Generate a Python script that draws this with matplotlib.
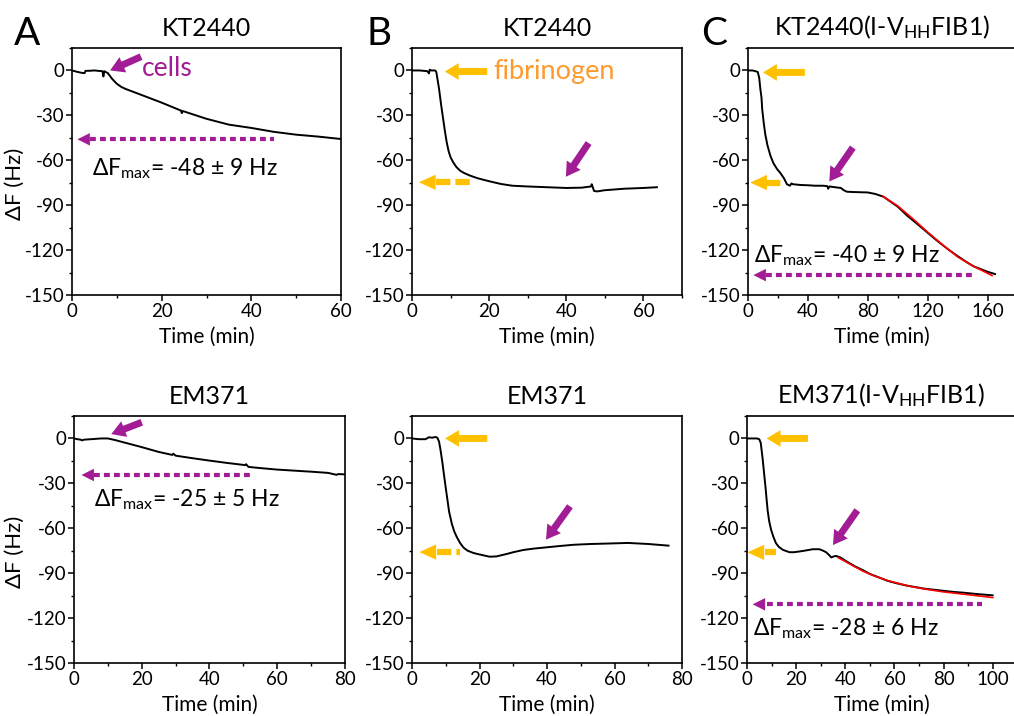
import matplotlib.pyplot as plt
from matplotlib.ticker import MultipleLocator

plt.rcParams['font.family'] = ['Lato', 'DejaVu Sans']
plt.rcParams['mathtext.fontset'] = 'custom'
plt.rcParams['mathtext.rm'] = 'Lato'
plt.rcParams['mathtext.default'] = 'regular'
plt.rcParams['mathtext.fallback'] = 'stixsans'
plt.rcParams['axes.unicode_minus'] = False

MAGENTA = '#A11C95'
ORANGE = '#FFC000'
TEXT_ORANGE = '#FF9A2E'

# A, top: KT2440 + cells
t_a1 = [0, 1, 2, 2.8, 3, 4, 5, 6, 6.8, 7, 7.2, 8, 9, 10, 11, 12, 15, 20, 24.3,
        24.5, 24.7, 30, 35, 40, 45, 50, 55, 60]
df_a1 = [0, -0.8, -1.5, -1.8, -0.3, -0.2, 0, -0.3, -0.5, -4, -0.5, -1.8, -5.8,
         -8.9, -11, -12.4, -15.8, -21.5, -26.8, -28.5, -27.1, -32.3, -36.2,
         -38.4, -41, -42.9, -44.2, -45.8]

# B, top: KT2440 on fibrinogen
t_b1 = [0, 2, 4, 4.4, 4.6, 5, 6, 6.3, 7, 7.5, 8, 8.5, 9, 9.5, 10, 10.6, 11.5,
        12.5, 13.5, 15, 17, 20, 23, 26, 30, 35, 40, 44, 46.4, 46.6, 47.2, 48,
        50, 55, 60, 63.5]
df_b1 = [0, 0, -0.5, -2, 0.5, 0, 0, -1, -12, -22, -31, -40, -48, -54, -58, -61,
         -64.5, -67, -68.5, -70.2, -72, -74, -75.8, -77, -77.5, -78, -78.5,
         -78.3, -77.5, -76, -80.5, -80.8, -80, -79, -78.5, -78]

# C, top: KT2440(I-VHHFIB1) on fibrinogen
t_c1 = [0, 3, 5, 6.5, 7.5, 8.2, 9, 9.5, 10.5, 11.6, 13, 15, 17, 19.5, 21.6, 24,
        26, 28, 29, 30, 35, 40, 45, 50, 53, 53.5, 54.5, 58, 62, 64, 66, 70, 80,
        85, 90.6, 95, 100, 106, 113, 119.5, 126, 133, 140, 146, 151, 155, 160,
        165]
df_c1 = [0, 0, -0.5, -1, -5, -12, -18, -26, -35, -43, -50, -57, -62, -66,
         -68.5, -72, -76, -77, -75.5, -76, -76.5, -76.7, -77, -77, -77.3, -79,
         -77.5, -78, -78.5, -80, -81, -81.2, -81.5, -82.5, -84.4, -87.5, -91,
         -96.7, -102.5, -108, -113.5, -119, -124, -128, -131, -132.5, -134.5,
         -136]
t_c1_fit = [90, 100, 110, 120, 130, 140, 150, 163]
df_c1_fit = [-84, -90.5, -99, -108, -116.5, -124.5, -130.5, -137]

# A, bottom: EM371 + cells
t_a2 = [0, 1, 2, 2.3, 3, 5, 8, 10, 12, 15, 20, 25, 29, 29.3, 30, 35, 40, 45,
        50.5, 50.8, 51.5, 55, 60, 65, 70, 75, 77.5, 78, 80]
df_a2 = [0, -0.5, -0.8, -1.3, -0.8, -0.5, 0, 0, -1, -2.8, -5.8, -9, -11, -10.2,
         -11.5, -13.2, -14.8, -16.3, -17.8, -17.2, -19, -19.8, -20.8, -21.5,
         -22.2, -23, -24.3, -23.8, -24]

# B, bottom: EM371 on fibrinogen
t_b2 = [0, 2, 4, 5, 6, 7, 7.5, 8, 8.4, 9, 9.4, 10, 10.5, 11, 11.8, 12.5, 13.3,
        14.3, 15.3, 16.5, 18.2, 20, 23, 25, 28, 30, 33, 36, 40, 44, 48, 53, 58,
        64, 70, 76]
df_b2 = [0, -0.5, -0.5, 0.8, 0.5, 1, 0.5, -2, -7, -16, -23, -33, -41, -49, -57,
         -62, -66, -70, -73, -75, -76.5, -77.5, -79, -78.8, -77.2, -76, -74.5,
         -73.6, -72.7, -71.8, -71, -70.5, -70.2, -69.8, -70.5, -71.6]

# C, bottom: EM371(I-VHHFIB1) on fibrinogen
t_c2 = [0, 2, 4, 5, 5.6, 6.4, 7, 7.5, 8, 8.4, 9, 9.8, 10.8, 11.8, 13, 14.6,
        17.3, 19, 21.4, 24, 26.8, 29.5, 31, 32.2, 33.5, 34.3, 35.3, 36.3, 38,
        40.4, 44, 47.2, 50, 54, 57, 60.8, 65, 67.6, 72, 78.5, 84, 88, 94, 100]
df_c2 = [0, 0, 0, -0.5, -3, -14, -24, -32, -41, -48, -55, -61, -66, -70, -72.5,
         -74.4, -76, -76, -75.5, -74.8, -74, -74, -75, -76, -78, -79.5, -78.8,
         -78.5, -79.5, -82, -85.5, -88, -90.5, -93, -95, -96.7, -98.3, -99,
         -100.3, -101.5, -102.5, -103, -104, -104.8]
t_c2_fit = [37, 42, 47, 52, 57, 62, 67, 72, 80, 88, 95, 100]
df_c2_fit = [-79.5, -84, -88.5, -92, -94.8, -97, -99, -100.5, -102.5, -104,
             -105.3, -106.3]


def px_axes(left, right, top, bottom):
    return fig.add_axes([left / 1014, 1 - bottom / 716,
                         (right - left) / 1014, (bottom - top) / 716])


def setup(ax, xmax, xstep, title, ylabel=False, open_right=False):
    ax.set_xlim(0, xmax)
    ax.set_ylim(-150, 15)
    ax.xaxis.set_major_locator(MultipleLocator(xstep))
    ax.xaxis.set_minor_locator(MultipleLocator(xstep / 2))
    ax.yaxis.set_major_locator(MultipleLocator(30))
    ax.yaxis.set_minor_locator(MultipleLocator(15))
    ax.tick_params(which='major', direction='out', length=4, width=1.1,
                   labelsize=13.5, pad=1.5)
    ax.tick_params(which='minor', direction='out', length=2.5, width=1)
    for s in ax.spines.values():
        s.set_linewidth(1.2)
    if open_right:
        ax.spines['right'].set_visible(False)
    ax.set_title(title, fontsize=18, pad=9)
    ax.set_xlabel('Time (min)', fontsize=15, labelpad=5)
    if ylabel:
        ax.set_ylabel('ΔF (Hz)', fontsize=16)
        w = ax.get_position().width * 1014
        ax.yaxis.set_label_coords(-(ax.get_position().x0 * 1014 - 25) / w, 0.45)


def solid_arrow(ax, tip, tail, color):
    ax.annotate('', xy=tip, xytext=tail,
                arrowprops=dict(arrowstyle='simple,head_length=1.0,head_width=1.2,tail_width=0.5',
                                color=color, lw=0, shrinkA=0, shrinkB=0,
                                mutation_scale=10))


def dotted_arrow(ax, tip, head_end, line_end, y, color, lw, dashes, hl, hw):
    ax.plot([head_end, line_end], [y, y], color=color, lw=lw, dashes=dashes,
            dash_capstyle='butt', solid_capstyle='butt')
    ax.annotate('', xy=(tip, y), xytext=(head_end + 0.01, y),
                arrowprops=dict(arrowstyle=f'-|>,head_length={hl},head_width={hw}',
                                color=color, lw=0, shrinkA=0, shrinkB=0,
                                mutation_scale=10))


def dfmax_label(ax, x, y, value):
    ax.text(x, y, 'ΔF$_{max}$= ' + value, fontsize=16.5, va='center')


fig = plt.figure(figsize=(10.14, 7.16), dpi=100)

# ---- top row
ax = px_axes(72, 341, 48, 295)
setup(ax, 60, 20, 'KT2440', ylabel=True)
ax.plot(t_a1, df_a1, color='black', lw=1.4)
solid_arrow(ax, (8.5, 0), (15.4, 9.2), MAGENTA)
ax.text(15.6, 1.5, 'cells', color=MAGENTA, fontsize=19, va='center')
dotted_arrow(ax, 1.2, 4.0, 45, -46, MAGENTA, 3, (1.4, 1), 0.9, 0.45)
dfmax_label(ax, 4.5, -65.5, '-48 ± 9 Hz')

ax = px_axes(412, 682, 48, 295)
setup(ax, 70, 20, 'KT2440')
ax.plot(t_b1, df_b1, color='black', lw=1.4)
solid_arrow(ax, (8.5, -0.7), (19.5, -0.7), ORANGE)
ax.text(21.2, -1, 'fibrinogen', color=TEXT_ORANGE, fontsize=19.5, va='center')
dotted_arrow(ax, 1.8, 6.3, 15, -74.7, ORANGE, 4.5, (2.3, 0.8), 1.2, 0.55)
solid_arrow(ax, (39.9, -71), (45.8, -48.5), MAGENTA)

ax = px_axes(748, 1016, 48, 295)
setup(ax, 179, 40, 'KT2440(I-V$_{HH}$FIB1)', open_right=True)
ax.plot(t_c1, df_c1, color='black', lw=1.4)
ax.plot(t_c1_fit, df_c1_fit, color='red', lw=1.2)
solid_arrow(ax, (10, -1.3), (38, -1.3), ORANGE)
dotted_arrow(ax, 1.5, 12, 22, -74.9, ORANGE, 4.5, (2.3, 0.8), 1.2, 0.55)
solid_arrow(ax, (54.3, -74.2), (70, -51.5), MAGENTA)
dfmax_label(ax, 3.8, -123.5, '-40 ± 9 Hz')
dotted_arrow(ax, 3.6, 12, 152, -136.7, MAGENTA, 3, (1.4, 1), 0.9, 0.45)

# ---- bottom row
ax = px_axes(74, 345, 416, 663)
setup(ax, 80, 20, 'EM371', ylabel=True)
ax.plot(t_a2, df_a2, color='black', lw=1.4)
solid_arrow(ax, (11, 2.9), (20, 10.8), MAGENTA)
dotted_arrow(ax, 2.2, 6, 52, -24.4, MAGENTA, 3, (1.4, 1), 0.9, 0.45)
dfmax_label(ax, 5.9, -41, '-25 ± 5 Hz')

ax = px_axes(412, 682, 416, 663)
setup(ax, 80, 20, 'EM371')
ax.plot(t_b2, df_b2, color='black', lw=1.4)
solid_arrow(ax, (9.8, 0), (22.3, 0), ORANGE)
dotted_arrow(ax, 2.2, 7.3, 14.3, -75.9, ORANGE, 4.5, (2.3, 0.8), 1.2, 0.55)
solid_arrow(ax, (39.7, -67.6), (46.8, -45.3), MAGENTA)

ax = px_axes(747, 1016, 416, 663)
setup(ax, 109.5, 20, 'EM371(I-V$_{HH}$FIB1)', open_right=True)
ax.plot(t_c2, df_c2, color='black', lw=1.4)
ax.plot(t_c2_fit, df_c2_fit, color='red', lw=1.2)
solid_arrow(ax, (8, 0), (24.8, 0), ORANGE)
dotted_arrow(ax, 0.2, 7.5, 12, -76.1, ORANGE, 4.5, (2.3, 0.8), 1.2, 0.55)
solid_arrow(ax, (35, -71.2), (44.9, -48), MAGENTA)
dotted_arrow(ax, 2.3, 8, 95.5, -110.8, MAGENTA, 3, (1.4, 1), 0.9, 0.45)
dfmax_label(ax, 2.6, -127, '-28 ± 6 Hz')

# panel letters
for letter, x in [('A', 14), ('B', 366), ('C', 701)]:
    fig.text(x / 1014, 1 - 34 / 716, letter, fontsize=28, va='center', ha='left')

fig.savefig('out.png', dpi=100)
